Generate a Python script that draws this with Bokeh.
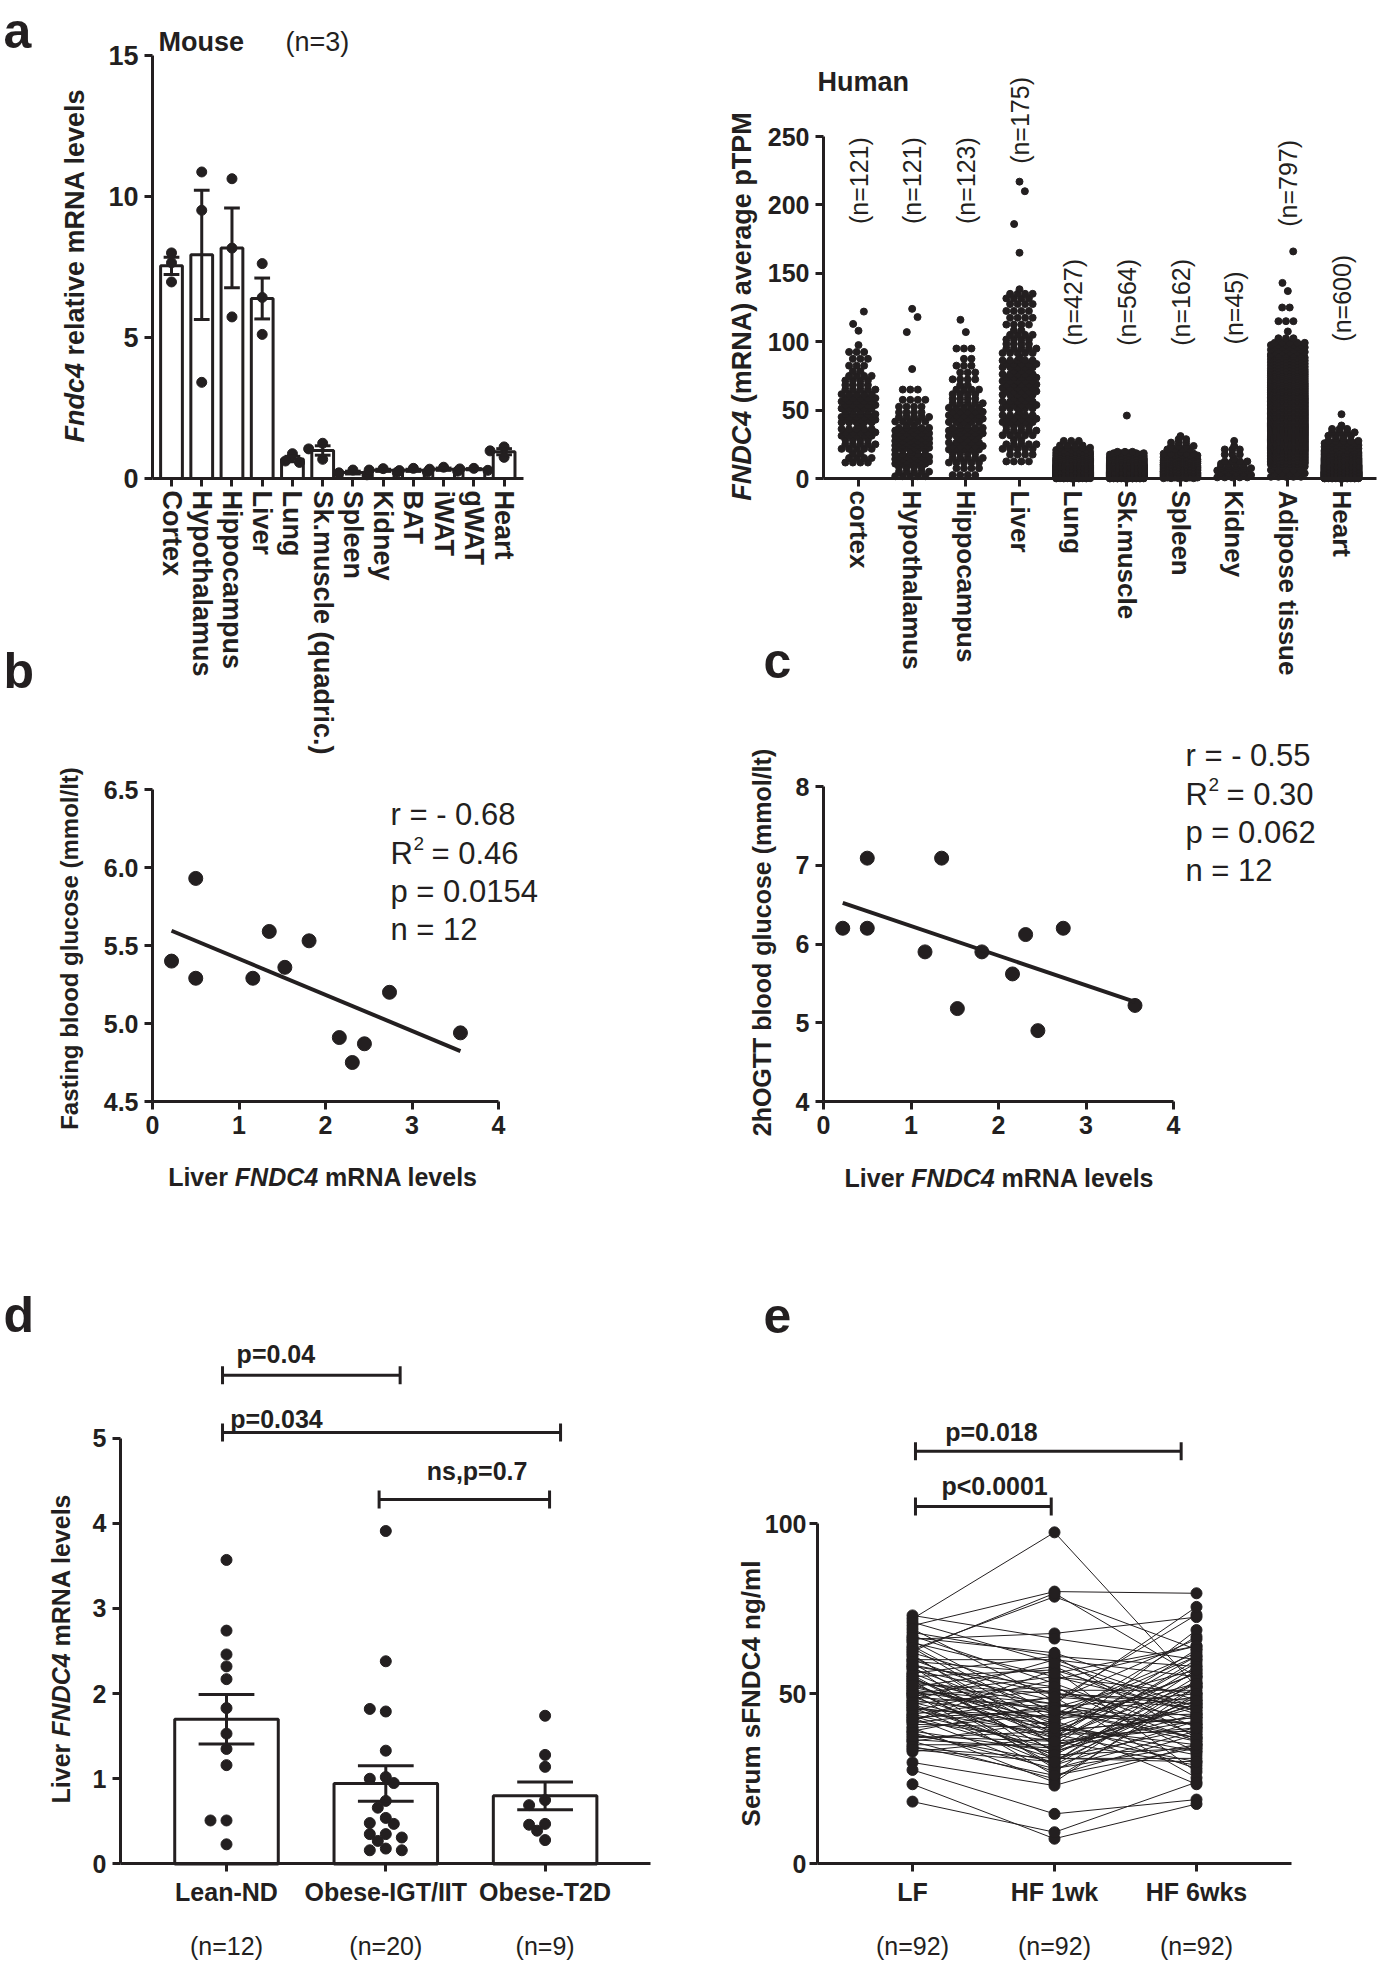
import math
import numpy as np
from bokeh.plotting import figure
from bokeh.models import Label, FixedTicker, Range1d, PrintfTickFormatter
from bokeh.layouts import row, column
from bokeh.embed import file_html
from bokeh.resources import INLINE

FONT = "Liberation Sans"
INK = "#231f20"

# ------------------------------------------------------------------ data
mouse_tissues = ["Cortex", "Hypothalamus", "Hippocampus", "Liver", "Lung",
                 "Sk.muscle (quadric.)", "Spleen", "Kidney", "BAT", "iWAT", "gWAT", "Heart"]
mouse_values = [[8.00, 7.65, 6.97], [10.87, 9.51, 3.41], [10.63, 8.17, 5.73], [7.62, 6.42, 5.11],
                [0.88, 0.62, 0.57], [1.25, 1.05, 0.68], [0.30, 0.20, 0.13], [0.35, 0.30, 0.22],
                [0.36, 0.28, 0.23], [0.40, 0.33, 0.26], [0.36, 0.34, 0.29], [1.12, 0.98, 0.75]]

human_tissues = ["cortex", "Hypothalamus", "Hippocampus", "Liver", "Lung", "Sk.muscle",
                 "Spleen", "Kidney", "Adipose tissue", "Heart"]
human_n = [121, 121, 123, 175, 427, 564, 162, 45, 797, 600]
# band width (pTPM) used when counting the swarm, and counts per band from 0 upward
human_band_width = [10, 10, 10, 10, 5, 5, 5, 5, 10, 5]
human_band_counts = [
    [0, 10, 14, 16, 24, 20, 14, 10, 6, 4],
    [14, 26, 30, 22, 14, 8, 3],
    [8, 14, 18, 22, 20, 14, 10, 7, 5, 3],
    [0, 8, 12, 14, 16, 18, 20, 18, 16, 14, 10, 8, 8, 9],
    [200, 120, 60, 30, 14, 3],
    [330, 150, 60, 23],
    [55, 45, 32, 16, 8, 5],
    [14, 14, 9, 3, 4, 1],
    [20, 90, 120, 130, 110, 100, 80, 60, 45, 30, 4, 3, 2],
    [270, 160, 80, 45, 20, 12, 8, 4],
]
human_outliers = [[108, 113, 122], [80, 107, 118, 124], [107, 116], [165, 186, 210, 217],
                  [], [46], [31], [], [137, 143, 166], [47]]
human_n_label_y = [186, 186, 186, 230, 97, 97, 97, 98, 184, 100]

liver_fndc4 = [0.22, 0.50, 0.50, 1.16, 1.35, 1.53, 1.81, 2.16, 2.31, 2.45, 2.74, 3.56]
fasting_glucose = [5.40, 5.93, 5.29, 5.29, 5.59, 5.36, 5.53, 4.91, 4.75, 4.87, 5.20, 4.94]
ogtt_glucose = [6.20, 7.09, 6.20, 5.90, 7.09, 5.18, 5.90, 5.62, 6.12, 4.90, 6.20, 5.22]
stats_b = ["r = - 0.68", "0.46", "p = 0.0154", "n = 12"]
stats_c = ["r = - 0.55", "0.30", "p = 0.062", "n = 12"]

d_groups = ["Lean-ND", "Obese-IGT/IIT", "Obese-T2D"]
d_lean = [3.57, 2.74, 2.46, 2.32, 2.17, 1.83, 1.53, 1.35, 1.16, 0.51, 0.51, 0.23]
d_igt = [3.91, 2.38, 1.79, 1.82, 1.33, 1.02, 1.00, 0.95, 0.74, 0.66, 0.54, 0.48, 0.47,
         0.35, 0.35, 0.31, 0.27, 0.18, 0.16, 0.16]
d_t2d = [1.74, 1.28, 1.14, 0.75, 0.69, 0.47, 0.46, 0.39, 0.28]
d_n = ["(n=12)", "(n=20)", "(n=9)"]
d_brk_x0 = [-0.025, -0.025, 0.958]
d_brk_x1 = [1.09, 2.097, 2.028]
d_brk_y = [5.74, 5.067, 4.28]
d_brk_text = ["p=0.04", "p=0.034", "ns,p=0.7"]
d_brk_tx = [0.31, 0.314, 1.573]
d_brk_ty = [5.99, 5.23, 4.62]

e_groups = ["LF", "HF 1wk", "HF 6wks"]
e_n = ["(n=92)", "(n=92)", "(n=92)"]
e_lf = [72, 70, 68, 66, 65, 64, 63, 62, 61, 60,
        60, 59, 58, 58, 57, 56, 56, 55, 55, 54,
        54, 53, 53, 52, 52, 51, 51, 50, 50, 50,
        49, 49, 48, 48, 47, 47, 46, 46, 45, 45,
        44, 44, 43, 43, 42, 42, 41, 40, 40, 39,
        39, 38, 37, 36, 36, 35, 34, 33, 29.8, 27.6,
        23.4, 18.3, 73, 71, 69, 67, 65.5, 63.5, 61.5, 59.5,
        57.5, 55.5, 53.5, 51.5, 49.5, 47.5, 45.5, 43.5, 41.5, 38.5,
        36.5, 34.5, 62.5, 58.5, 54.5, 50.5, 46.5, 42.5, 37.5, 33.5,
        66.5, 52.5]
e_hf1 = [97.4, 80, 61, 67.7, 55, 42, 78.5, 50, 38, 60,
         45, 35, 52, 30, 48, 61, 40, 33, 57, 44,
         28, 50, 37, 58, 42, 31, 47, 55, 39, 26,
         46, 36, 60, 43, 32, 51, 29, 41, 54, 38,
         34, 49, 27, 45, 57, 36, 40, 24, 44, 33,
         47, 30, 39, 25, 42, 35, 31, 37, 23, 14.7,
         7.4, 9.3, 66.2, 59, 48, 53, 44, 39, 35, 56,
         41, 33, 47, 29, 52, 37, 43, 31, 46, 28,
         34, 26, 79.5, 50, 38, 45, 32, 49, 36, 30,
         62, 40]
e_hf6 = [52, 79.5, 58, 72.5, 45, 66.8, 63, 48, 30, 55,
         41, 60, 33, 49, 73.2, 37, 56, 44, 27, 62,
         35, 47, 68.7, 40, 53, 31, 75.5, 50, 43, 38,
         57, 29, 46, 61, 34, 51, 42, 23.4, 64, 39,
         48, 25.3, 54, 36, 44, 59, 32, 52, 41, 47,
         37, 55, 43, 50, 28, 46, 40, 53, 35, 18.9,
         17.6, 24, 60, 45, 66, 38, 49, 56, 42, 64,
         33, 58, 41, 52, 36, 63, 44, 30, 50, 39,
         47, 34, 55, 43, 61, 37, 53, 46, 40, 57,
         48, 35]
e_brk_x0 = [0.021, 0.021]
e_brk_x1 = [1.892, 0.977]
e_brk_y = [121.2, 105.0]
e_brk_text = ["p=0.018", "p<0.0001"]
e_brk_tx = [0.556, 0.578]
e_brk_ty = [127.0, 110.9]

# ------------------------------------------------------------------ helpers
BOLDW = dict(zip(" ()/-.=<,0123456789", [278, 333, 333, 278, 333, 278, 584, 584, 278] + [556] * 10))
BOLDW.update({'A': 722, 'B': 722, 'C': 722, 'D': 722, 'E': 667, 'F': 611, 'G': 778, 'H': 722,
              'I': 278, 'L': 611, 'M': 833, 'N': 722, 'O': 778, 'P': 667, 'R': 722, 'S': 667,
              'T': 611, 'W': 944, 'a': 556, 'b': 611, 'c': 556, 'd': 611, 'e': 556, 'f': 333,
              'g': 611, 'h': 611, 'i': 278, 'k': 556, 'l': 278, 'm': 889, 'n': 611, 'o': 611,
              'p': 611, 'q': 611, 'r': 389, 's': 556, 't': 333, 'u': 611, 'v': 556, 'w': 778,
              'x': 556, 'y': 556})


def tw(s, size):
    return sum(BOLDW.get(ch, 556) for ch in s) * size / 1000.0


class Panel:
    """A figure whose frame fills its whole canvas; data->page mapping given by two points per axis."""

    def __init__(self, ox, oy, w, h, xmap, ymap):
        self.ox, self.oy = ox, oy
        self.xa, self.pxa, xb, pxb = xmap
        self.ya, self.pya, yb, pyb = ymap
        self.sx = (xb - self.xa) / (pxb - self.pxa)
        self.sy = (yb - self.ya) / (pyb - self.pya)
        x0, x1 = self.xval(ox), self.xval(ox + w)
        y0, y1 = self.yval(oy + h), self.yval(oy)
        self.p = figure(width=w, height=h, x_range=Range1d(x0, x1), y_range=Range1d(y0, y1),
                        min_border=0, min_border_left=0, min_border_right=0,
                        min_border_top=0, min_border_bottom=0,
                        output_backend="svg", toolbar_location=None)
        p = self.p
        p.xgrid.visible = False
        p.ygrid.visible = False
        p.outline_line_color = None
        p.background_fill_color = "white"
        p.border_fill_color = "white"
        for ax in (p.xaxis[0], p.yaxis[0]):
            ax.axis_line_width = 3
            ax.axis_line_color = INK
            ax.major_tick_line_width = 3
            ax.major_tick_line_color = INK
            ax.major_tick_out = 8
            ax.major_tick_in = 0
            ax.minor_tick_line_color = None
            ax.major_label_text_font = FONT
            ax.major_label_text_font_style = "bold"
            ax.major_label_text_color = INK
            ax.major_label_standoff = 6

    def xval(self, px):
        return self.xa + (px - self.pxa) * self.sx

    def yval(self, py):
        return self.ya + (py - self.pya) * self.sy

    def to_px(self, x, y):
        return self.pxa + (x - self.xa) / self.sx, self.pya + (y - self.ya) / self.sy

    def axes(self, x_at, x_bounds, y_at, y_bounds):
        self.p.xaxis.fixed_location = x_at
        self.p.xaxis.bounds = x_bounds
        self.p.yaxis.fixed_location = y_at
        self.p.yaxis.bounds = y_bounds

    def ptext(self, px, py, t, size, style="bold", align="left", angle=0.0):
        self.p.add_layout(Label(x=px - self.ox, y=py - self.oy, x_units="canvas", y_units="canvas",
                                text=t, text_font=FONT, text_font_size=f"{size}px",
                                text_font_style=style, text_color=INK, text_align=align,
                                text_baseline="middle", angle=angle))

    def dtext(self, x, y, t, size, style="bold", align="left", angle=0.0):
        px, py = self.to_px(x, y)
        self.ptext(px, py, t, size, style, align, angle)

    def rich(self, cx, cy, pieces, size, vertical=False):
        items, s = [], 0.0
        sp = tw(" ", size)
        for t, st in pieces:
            core = t.strip(" ")
            lead = len(t) - len(t.lstrip(" "))
            trail = len(t) - len(t.rstrip(" "))
            s += lead * sp
            items.append((s, core, st))
            s += tw(core, size) + trail * sp
        total = s
        for off, core, st in items:
            if vertical:
                self.ptext(cx, cy + total / 2 - off, core, size, st, angle=math.pi / 2)
            else:
                self.ptext(cx - total / 2 + off, cy, core, size, st)


def swarm(vals, xpx, ypx, diam, step):
    placed, offs = [], []
    cands = [0]
    for j in range(1, 30):
        cands += [-j, j]
    for v in vals:
        y = v * ypx
        x = 0.0
        for c in cands:
            x = c * step
            if all((x - a) ** 2 + (y - b) ** 2 >= (diam * 0.9) ** 2 for a, b in placed):
                break
        placed.append((x, y))
        offs.append(x / xpx)
    return offs


def band_layout(counts, outliers, bw, maxc=5, dx=0.14):
    xs, ys = [], []
    for b, c in enumerate(counts):
        if c == 0:
            continue
        cols = min(maxc, int(math.ceil(math.sqrt(1.5 * c))))
        rows = int(math.ceil(c / cols))
        for r in range(rows):
            n_in = min(cols, c - r * cols)
            y = b * bw + (r + 0.5) * bw / rows
            stag = dx / 4 if r % 2 else -dx / 4
            for k in range(n_in):
                xs.append((k - (n_in - 1) / 2) * dx + (stag if n_in > 1 else 0))
                ys.append(y)
    pattern = [0.0, -0.1, 0.1]
    for j, v in enumerate(outliers):
        xs.append(pattern[j % 3])
        ys.append(v)
    return xs, ys


def sem(v):
    a = np.asarray(v, dtype=float)
    return a.std(ddof=1) / math.sqrt(len(a))


def stats_block(P, left, baselines, st):
    c = [b - 11 for b in baselines]
    P.ptext(left, c[0], st[0], 31, "normal")
    P.ptext(left, c[1], "R", 31, "normal")
    P.ptext(left + 23, c[1] - 10, "2", 19, "normal")
    P.ptext(left + 41, c[1], "= " + st[1], 31, "normal")
    P.ptext(left, c[2], st[2], 31, "normal")
    P.ptext(left, c[3], st[3], 31, "normal")


def brackets(p, x0s, x1s, ys, cap):
    p.segment(x0=x0s, y0=ys, x1=x1s, y1=ys, line_width=3, line_color=INK)
    for xs in (x0s, x1s):
        p.segment(x0=xs, y0=[y - cap for y in ys], x1=xs, y1=[y + cap for y in ys],
                  line_width=3, line_color=INK)


LX, LW = 0, 715
RX, RW = 715, 664

# ------------------------------------------------------------------ panel a (mouse)
A1 = Panel(LX, 0, LW, 762, (0, 171, 11, 503.6), (0, 478, 15, 55))
p = A1.p
A1.axes(0, (A1.xval(152), A1.xval(523)), A1.xval(152), (0, 15))
p.xaxis.ticker = FixedTicker(ticks=list(range(len(mouse_tissues))))
p.xaxis.major_label_overrides = {i: t for i, t in enumerate(mouse_tissues)}
p.xaxis.major_label_orientation = "vertical"
p.xaxis.major_label_text_font_size = "27px"
p.xaxis.major_label_standoff = 4
p.yaxis.ticker = FixedTicker(ticks=[0, 5, 10, 15])
p.yaxis.major_label_text_font_size = "27px"
means = [float(np.mean(v)) for v in mouse_values]
sems = [sem(v) for v in mouse_values]
idx = list(range(len(mouse_tissues)))
p.vbar(x=idx, top=means, width=0.72, bottom=0, fill_color="white", line_color=INK, line_width=3)
for i, vals in enumerate(mouse_values):
    offs = swarm(vals, 30.2, 28.2, 10, 7)
    p.scatter(x=[i + o for o in offs], y=vals, size=10, color=INK)
lo = [m - s for m, s in zip(means, sems)]
hi = [m + s for m, s in zip(means, sems)]
p.segment(x0=idx, y0=lo, x1=idx, y1=hi, line_width=3, line_color=INK)
for yy in (lo, hi):
    p.segment(x0=[i - 0.26 for i in idx], y0=yy, x1=[i + 0.26 for i in idx], y1=yy,
              line_width=3, line_color=INK)
A1.ptext(3, 30, "a", 50, "bold")
A1.ptext(3, 670, "b", 50, "bold")
A1.ptext(158, 41, "Mouse", 27, "bold")
A1.ptext(285, 41, "(n=3)", 27, "normal")
A1.rich(74, 265, [("Fndc4", "bold italic"), (" relative mRNA levels", "bold")], 27, vertical=True)

# ------------------------------------------------------------------ panel a (human)
A2 = Panel(RX, 0, RW, 690, (0, 858, 9, 1341), (0, 478, 250, 136))
p = A2.p
A2.axes(0, (A2.xval(823), A2.xval(1376)), A2.xval(823), (0, 250))
p.xaxis.ticker = FixedTicker(ticks=list(range(len(human_tissues))))
p.xaxis.major_label_overrides = {i: t for i, t in enumerate(human_tissues)}
p.xaxis.major_label_orientation = "vertical"
p.xaxis.major_label_text_font_size = "26px"
p.xaxis.major_label_standoff = 4
p.yaxis.ticker = FixedTicker(ticks=[0, 50, 100, 150, 200, 250])
p.yaxis.major_label_text_font_size = "25px"
for i, (cnt, outl) in enumerate(zip(human_band_counts, human_outliers)):
    xs, ys = band_layout(cnt, outl, human_band_width[i])
    p.scatter(x=[i + x for x in xs], y=ys, size=7, color=INK)
for i, n in enumerate(human_n):
    A2.dtext(i, human_n_label_y[i], f"(n={n})", 25, "normal", angle=math.pi / 2)
A2.ptext(817, 81, "Human", 27, "bold")
A2.rich(741, 306, [("FNDC4", "bold italic"), (" (mRNA) average pTPM", "bold")], 27, vertical=True)
A2.ptext(763, 660, "c", 50, "bold")

# ------------------------------------------------------------------ panel b
B = Panel(LX, 762, LW, 508, (0, 152, 4, 498), (4.5, 1101, 6.5, 789))
p = B.p
B.axes(4.5, (0, 4), 0, (4.5, 6.5))
p.xaxis.ticker = FixedTicker(ticks=[0, 1, 2, 3, 4])
p.yaxis.ticker = FixedTicker(ticks=[4.5, 5.0, 5.5, 6.0, 6.5])
p.yaxis.formatter = PrintfTickFormatter(format="%.1f")
p.xaxis.major_label_text_font_size = "25px"
p.yaxis.major_label_text_font_size = "25px"
p.scatter(x=liver_fndc4, y=fasting_glucose, size=14, color=INK)
k, c0 = np.polyfit(liver_fndc4, fasting_glucose, 1)
xe = [min(liver_fndc4), max(liver_fndc4)]
p.line(x=xe, y=[k * x + c0 for x in xe], line_width=4, line_color=INK)
B.rich(69, 948, [("Fasting blood glucose (mmol/lt)", "bold")], 24, vertical=True)
B.rich(326, 1176, [("Liver", "bold"), (" FNDC4", "bold italic"), (" mRNA  levels", "bold")], 25)
stats_block(B, 390, [825, 864, 902, 940], stats_b)

# ------------------------------------------------------------------ panel c
C = Panel(RX, 690, RW, 580, (0, 823, 4, 1173), (4, 1101, 8, 786))
p = C.p
C.axes(4, (0, 4), 0, (4, 8))
p.xaxis.ticker = FixedTicker(ticks=[0, 1, 2, 3, 4])
p.yaxis.ticker = FixedTicker(ticks=[4, 5, 6, 7, 8])
p.xaxis.major_label_text_font_size = "25px"
p.yaxis.major_label_text_font_size = "25px"
p.scatter(x=liver_fndc4, y=ogtt_glucose, size=14, color=INK)
k, c0 = np.polyfit(liver_fndc4, ogtt_glucose, 1)
p.line(x=xe, y=[k * x + c0 for x in xe], line_width=4, line_color=INK)
C.rich(761, 942, [("2hOGTT blood glucose (mmol/lt)", "bold")], 25, vertical=True)
C.rich(999, 1177, [("Liver", "bold"), (" FNDC4", "bold italic"), (" mRNA levels", "bold")], 25)
stats_block(C, 1185, [766, 805, 843, 881], stats_c)

# ------------------------------------------------------------------ panel d
D = Panel(LX, 1270, LW, 691, (0, 226, 2, 544.6), (0, 1863.4, 5, 1437.7))
p = D.p
D.axes(0, (D.xval(120), D.xval(650)), D.xval(120), (0, 5))
p.xaxis.ticker = FixedTicker(ticks=[0, 1, 2])
p.xaxis.major_label_overrides = {i: t for i, t in enumerate(d_groups)}
p.xaxis.major_label_text_font_size = "25px"
p.yaxis.ticker = FixedTicker(ticks=[0, 1, 2, 3, 4, 5])
p.yaxis.major_label_text_font_size = "25px"
d_sets = [d_lean, d_igt, d_t2d]
dm = [float(np.mean(v)) for v in d_sets]
ds = [sem(v) for v in d_sets]
p.vbar(x=[0, 1, 2], top=dm, width=0.65, bottom=0, fill_color="white", line_color=INK, line_width=3)
for i, vals in enumerate(d_sets):
    offs = swarm(vals, 159.3, 85.1, 11, 8)
    p.scatter(x=[i + o for o in offs], y=vals, size=11, color=INK)
lo = [m - s for m, s in zip(dm, ds)]
hi = [m + s for m, s in zip(dm, ds)]
p.segment(x0=[0, 1, 2], y0=lo, x1=[0, 1, 2], y1=hi, line_width=3, line_color=INK)
for yy in (lo, hi):
    p.segment(x0=[i - 0.175 for i in range(3)], y0=yy, x1=[i + 0.175 for i in range(3)], y1=yy,
              line_width=3, line_color=INK)
brackets(p, d_brk_x0, d_brk_x1, d_brk_y, 0.106)
for t, x, y in zip(d_brk_text, d_brk_tx, d_brk_ty):
    D.dtext(x, y, t, 25, "bold", align="center")
for i, t in enumerate(d_n):
    D.ptext(D.to_px(i, 0)[0], 1945, t, 25, "normal", align="center")
D.ptext(3, 1314, "d", 50, "bold")
D.rich(60, 1648, [("Liver", "bold"), (" FNDC4", "bold italic"), (" mRNA levels", "bold")], 25,
       vertical=True)

# ------------------------------------------------------------------ panel e
E = Panel(RX, 1270, RW, 691, (0, 912, 2, 1196), (0, 1863.4, 100, 1523))
p = E.p
E.axes(0, (E.xval(817), E.xval(1291)), E.xval(817), (0, 100))
p.xaxis.ticker = FixedTicker(ticks=[0, 1, 2])
p.xaxis.major_label_overrides = {i: t for i, t in enumerate(e_groups)}
p.xaxis.major_label_text_font_size = "25px"
p.yaxis.ticker = FixedTicker(ticks=[0, 50, 100])
p.yaxis.major_label_text_font_size = "25px"
p.yaxis.major_label_standoff = 3
p.multi_line(xs=[[0, 1, 2] for _ in e_lf], ys=[[a, b, c] for a, b, c in zip(e_lf, e_hf1, e_hf6)],
             line_width=1, line_color=INK)
for i, vals in enumerate([e_lf, e_hf1, e_hf6]):
    p.scatter(x=[i] * len(vals), y=vals, size=11, color=INK)
brackets(p, e_brk_x0, e_brk_x1, e_brk_y, 2.65)
for t, x, y in zip(e_brk_text, e_brk_tx, e_brk_ty):
    E.dtext(x, y, t, 25, "bold", align="center")
for i, t in enumerate(e_n):
    E.ptext(E.to_px(i, 0)[0], 1945, t, 25, "normal", align="center")
E.ptext(763, 1315, "e", 50, "bold")
E.rich(750, 1693, [("Serum sFNDC4 ng/ml", "bold")], 26, vertical=True)

layout = row(column(A1.p, B.p, D.p, spacing=0), column(A2.p, C.p, E.p, spacing=0), spacing=0)
open("out.html", "w").write(file_html(layout, INLINE))
